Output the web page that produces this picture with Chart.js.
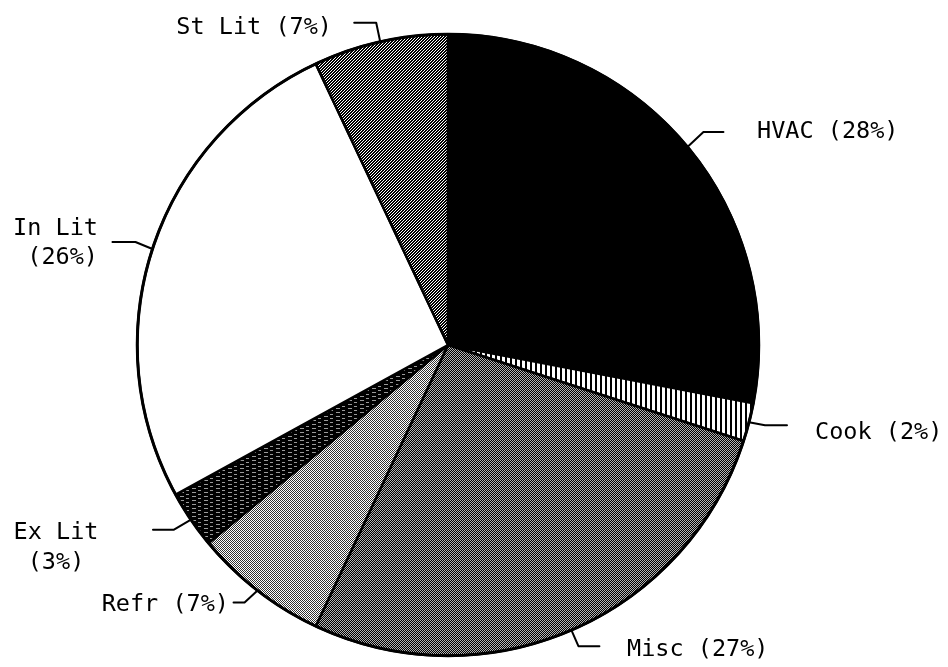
<!DOCTYPE html>
<html>
<head>
<meta charset="utf-8">
<script src="https://cdn.jsdelivr.net/npm/chart.js@4/dist/chart.umd.min.js"></script>
<style>
  html, body { margin: 0; padding: 0; background: #fff; }
  #wrap { width: 948px; height: 667px; }
</style>
</head>
<body>
<div id="wrap"><canvas id="pie" width="948" height="667"></canvas></div>
<script>
// Slices, clockwise from 12 o'clock
const categories = ['HVAC', 'Cook', 'Misc', 'Refr', 'Ex Lit', 'In Lit', 'St Lit'];
const shares = [28, 2, 27, 7, 3, 26, 7];

// Leader / label layout per slice (same order as categories)
const labelLayout = [
    { elbow: [16, -15], run: 20,  x: 757, y: [132],      align: 'left' },
    { elbow: [16, 3],   run: 22,  x: 815, y: [433],      align: 'left' },
    { elbow: [7, 16],   run: 21,  x: 627, y: [650],      align: 'left' },
    { elbow: [-13, 12], run: -11, x: 229, y: [605],      align: 'right' },
    { elbow: [-17, 10], run: -21, x: 56,  y: [533, 563], align: 'center' },
    { elbow: [-17, -7], run: -23, x: 98,  y: [229, 258], align: 'right' },
    { elbow: [-4, -19], run: -22, x: 332, y: [28],       align: 'right' }
];

/**
 * Build a small repeating fill pattern
 */
function makePattern(w, h, draw) {
    const c = document.createElement('canvas');
    c.width = w;
    c.height = h;
    const g = c.getContext('2d');
    draw(g);
    return g.createPattern(c, 'repeat');
}

const fills = [
    // HVAC - solid black
    '#000000',
    // Cook - vertical stripes
    makePattern(5, 1, g => {
        g.fillStyle = '#fff'; g.fillRect(0, 0, 5, 1);
        g.fillStyle = '#000'; g.fillRect(0, 0, 2, 1);
    }),
    // Misc - dark fine checker
    makePattern(2, 2, g => {
        g.fillStyle = '#000'; g.fillRect(0, 0, 2, 2);
        g.fillStyle = '#b4b4b4'; g.fillRect(0, 0, 1, 1); g.fillRect(1, 1, 1, 1);
    }),
    // Refr - light fine checker
    makePattern(2, 2, g => {
        g.fillStyle = '#fff'; g.fillRect(0, 0, 2, 2);
        g.fillStyle = '#333'; g.fillRect(0, 0, 1, 1); g.fillRect(1, 1, 1, 1);
    }),
    // Ex Lit - near black with faint short dashes
    makePattern(12, 4, g => {
        g.fillStyle = '#000'; g.fillRect(0, 0, 12, 4);
        g.fillStyle = '#9a9a9a'; g.fillRect(0, 0, 4, 1); g.fillRect(6, 2, 3, 1);
    }),
    // In Lit - white
    '#ffffff',
    // St Lit - diagonal hatching
    makePattern(3, 3, g => {
        g.fillStyle = '#fff'; g.fillRect(0, 0, 3, 3);
        g.fillStyle = '#000';
        for (let x = 0; x < 3; x++) {
            for (let y = 0; y < 3; y++) {
                if ((x + y) % 3 < 2) g.fillRect(x, y, 1, 1);
            }
        }
    })
];

/**
 * Leader lines and labels drawn outside the pie
 */
const leaderLabels = {
    id: 'leaderLabels',
    afterDatasetsDraw(chart) {
        const ctx = chart.ctx;
        const meta = chart.getDatasetMeta(0);
        ctx.save();
        ctx.strokeStyle = '#000';
        ctx.lineWidth = 2;
        ctx.lineJoin = 'round';
        ctx.lineCap = 'round';
        ctx.fillStyle = '#000';
        ctx.font = '23.5px "DejaVu Sans Mono", monospace';
        ctx.textBaseline = 'middle';

        meta.data.forEach((arc, i) => {
            const p = arc.getProps(['x', 'y', 'startAngle', 'endAngle', 'outerRadius'], true);
            const mid = (p.startAngle + p.endAngle) / 2;
            const sx = p.x + Math.cos(mid) * p.outerRadius;
            const sy = p.y + Math.sin(mid) * p.outerRadius;
            const lay = labelLayout[i];
            const ex = sx + lay.elbow[0];
            const ey = sy + lay.elbow[1];

            ctx.beginPath();
            ctx.moveTo(sx, sy);
            ctx.lineTo(ex, ey);
            ctx.lineTo(ex + lay.run, ey);
            ctx.stroke();

            const lines = lay.y.length > 1
                ? [categories[i], '(' + shares[i] + '%)']
                : [categories[i] + ' (' + shares[i] + '%)'];
            ctx.textAlign = lay.align;
            lines.forEach((t, k) => ctx.fillText(t, lay.x, lay.y[k]));
        });

        // heavier outer rim
        const a0 = meta.data[0];
        ctx.lineWidth = 3;
        ctx.beginPath();
        ctx.arc(a0.x, a0.y, a0.outerRadius, 0, Math.PI * 2);
        ctx.stroke();
        ctx.restore();
    }
};

new Chart(document.getElementById('pie'), {
    type: 'pie',
    data: {
        labels: categories,
        datasets: [{
            data: shares,
            backgroundColor: fills,
            borderColor: '#000',
            borderWidth: 2.5
        }]
    },
    options: {
        responsive: false,
        animation: false,
        events: [],
        layout: {
            padding: { top: 33, bottom: 10, left: 136, right: 188 }
        },
        plugins: {
            legend: { display: false },
            tooltip: { enabled: false }
        }
    },
    plugins: [leaderLabels]
});
</script>
</body>
</html>
